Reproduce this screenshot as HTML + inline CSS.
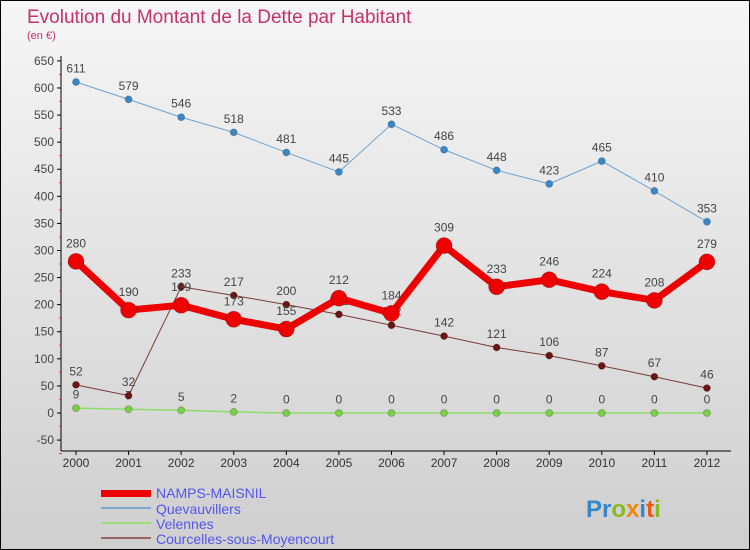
<!DOCTYPE html>
<html><head><meta charset="utf-8"><style>
body{margin:0}
#c{width:748px;height:548px;border:1px solid #000;background:linear-gradient(#f6f6f6,#cfcfcf);position:relative;font-family:"Liberation Sans",sans-serif;overflow:hidden}
</style></head><body>
<div id="c">
<svg id="s" width="748" height="548" style="position:absolute;left:0;top:0">
<text x="26" y="22" font-size="19" fill="#c8306a">Evolution du Montant de la Dette par Habitant</text>
<text x="26" y="38" font-size="11" fill="#c8306a">(en €)</text>
<g id="axes"></g><g id="series"></g>
<g>
<rect x="100" y="489" width="50" height="7" fill="#e00"/>
<text x="155" y="497" font-size="14" fill="#5555ee">NAMPS-MAISNIL</text>
<line x1="100" y1="507" x2="150" y2="507" stroke="#7fa9cc" stroke-width="2"/>
<text x="155" y="513" font-size="14" fill="#5555ee">Quevauvillers</text>
<line x1="100" y1="522" x2="150" y2="522" stroke="#99dd77" stroke-width="2"/>
<text x="155" y="528" font-size="14" fill="#5555ee">Velennes</text>
<line x1="100" y1="537" x2="150" y2="537" stroke="#996666" stroke-width="2"/>
<text x="155" y="543" font-size="14" fill="#5555ee">Courcelles-sous-Moyencourt</text>
</g>
<text x="585" y="516" font-size="24" font-weight="bold"><tspan fill="#3388cc">Pr</tspan><tspan fill="#88bb22">o</tspan><tspan fill="#ee8811">x</tspan><tspan fill="#3388cc">i</tspan><tspan fill="#ee5511">t</tspan><tspan fill="#88bb22">i</tspan></text>
</svg>
</div>
<script>
const years=["2000","2001","2002","2003","2004","2005","2006","2007","2008","2009","2010","2011","2012"];
const namps=[280,190,199,173,155,212,184,309,233,246,224,208,279];
const quev=[611,579,546,518,481,445,533,486,448,423,465,410,353];
const vel=[9,7,5,2,0,0,0,0,0,0,0,0,0];
const courc=[52,32,233,217,200,182,162,142,121,106,87,67,46];
const yTicks=[-50,0,50,100,150,200,250,300,350,400,450,500,550,600,650];
const NS="http://www.w3.org/2000/svg";
const xs=i=>75+i*52.58, ys=v=>412-v*0.5417;
const ax=document.getElementById('axes'), se=document.getElementById('series');
function mk(tag,at,parent){const e=document.createElementNS(NS,tag);for(const k in at)e.setAttribute(k,at[k]);parent.appendChild(e);return e;}
let l=mk('line',{x1:60,y1:55,x2:60,y2:450,stroke:'#000'},ax);


l=mk('line',{x1:60,y1:450,x2:730,y2:450,stroke:'#000'},ax);


yTicks.forEach(v=>{const y=ys(v);
 mk('line',{x1:56,y1:y,x2:60,y2:y,stroke:'#000'},ax);
 mk('line',{x1:58,y1:y+13.5,x2:61,y2:y+13.5,stroke:'#e33'},ax);
 const t=mk('text',{x:53,y:y+4,'font-size':12,'text-anchor':'end',fill:'#444'},ax);t.textContent=v;
 
 });
years.forEach((yr,i)=>{const x=xs(i);
 mk('line',{x1:x,y1:450,x2:x,y2:454,stroke:'#000'},ax);
 const t=mk('text',{x:x,y:466,'font-size':12,'text-anchor':'middle',fill:'#333'},ax);t.textContent=yr;
 
 });
function series(vals,name,color,w,r,dot,lc){
 const g=mk('g',{},se);
 
 
 mk('polyline',{points:vals.map((v,i)=>xs(i)+','+ys(v)).join(' '),fill:'none',stroke:color,'stroke-width':w,'stroke-linejoin':'round'},g);
 vals.forEach((v,i)=>{const c=mk('circle',{cx:xs(i),cy:ys(v),r:r,fill:dot,stroke:'rgba(0,0,0,0.2)'},g);
  
  
  const t=mk('text',{x:xs(i),y:ys(v)-r-6,'font-size':12,'text-anchor':'middle',fill:lc},g);t.textContent=v;});
}
series(vel,'velennes','#8fdc6a',1.5,3.5,'#7bd04a','#444');
series(courc,'courcelles','#7a3a3a',1,3.5,'#6b1515','#444');
series(quev,'quevauvillers','#6fa2cf',1,3.5,'#3a88c8','#444');
series(namps,'namps-maisnil','#ee0000',7,8,'#ee0000','#444');
</script>
</body></html>
